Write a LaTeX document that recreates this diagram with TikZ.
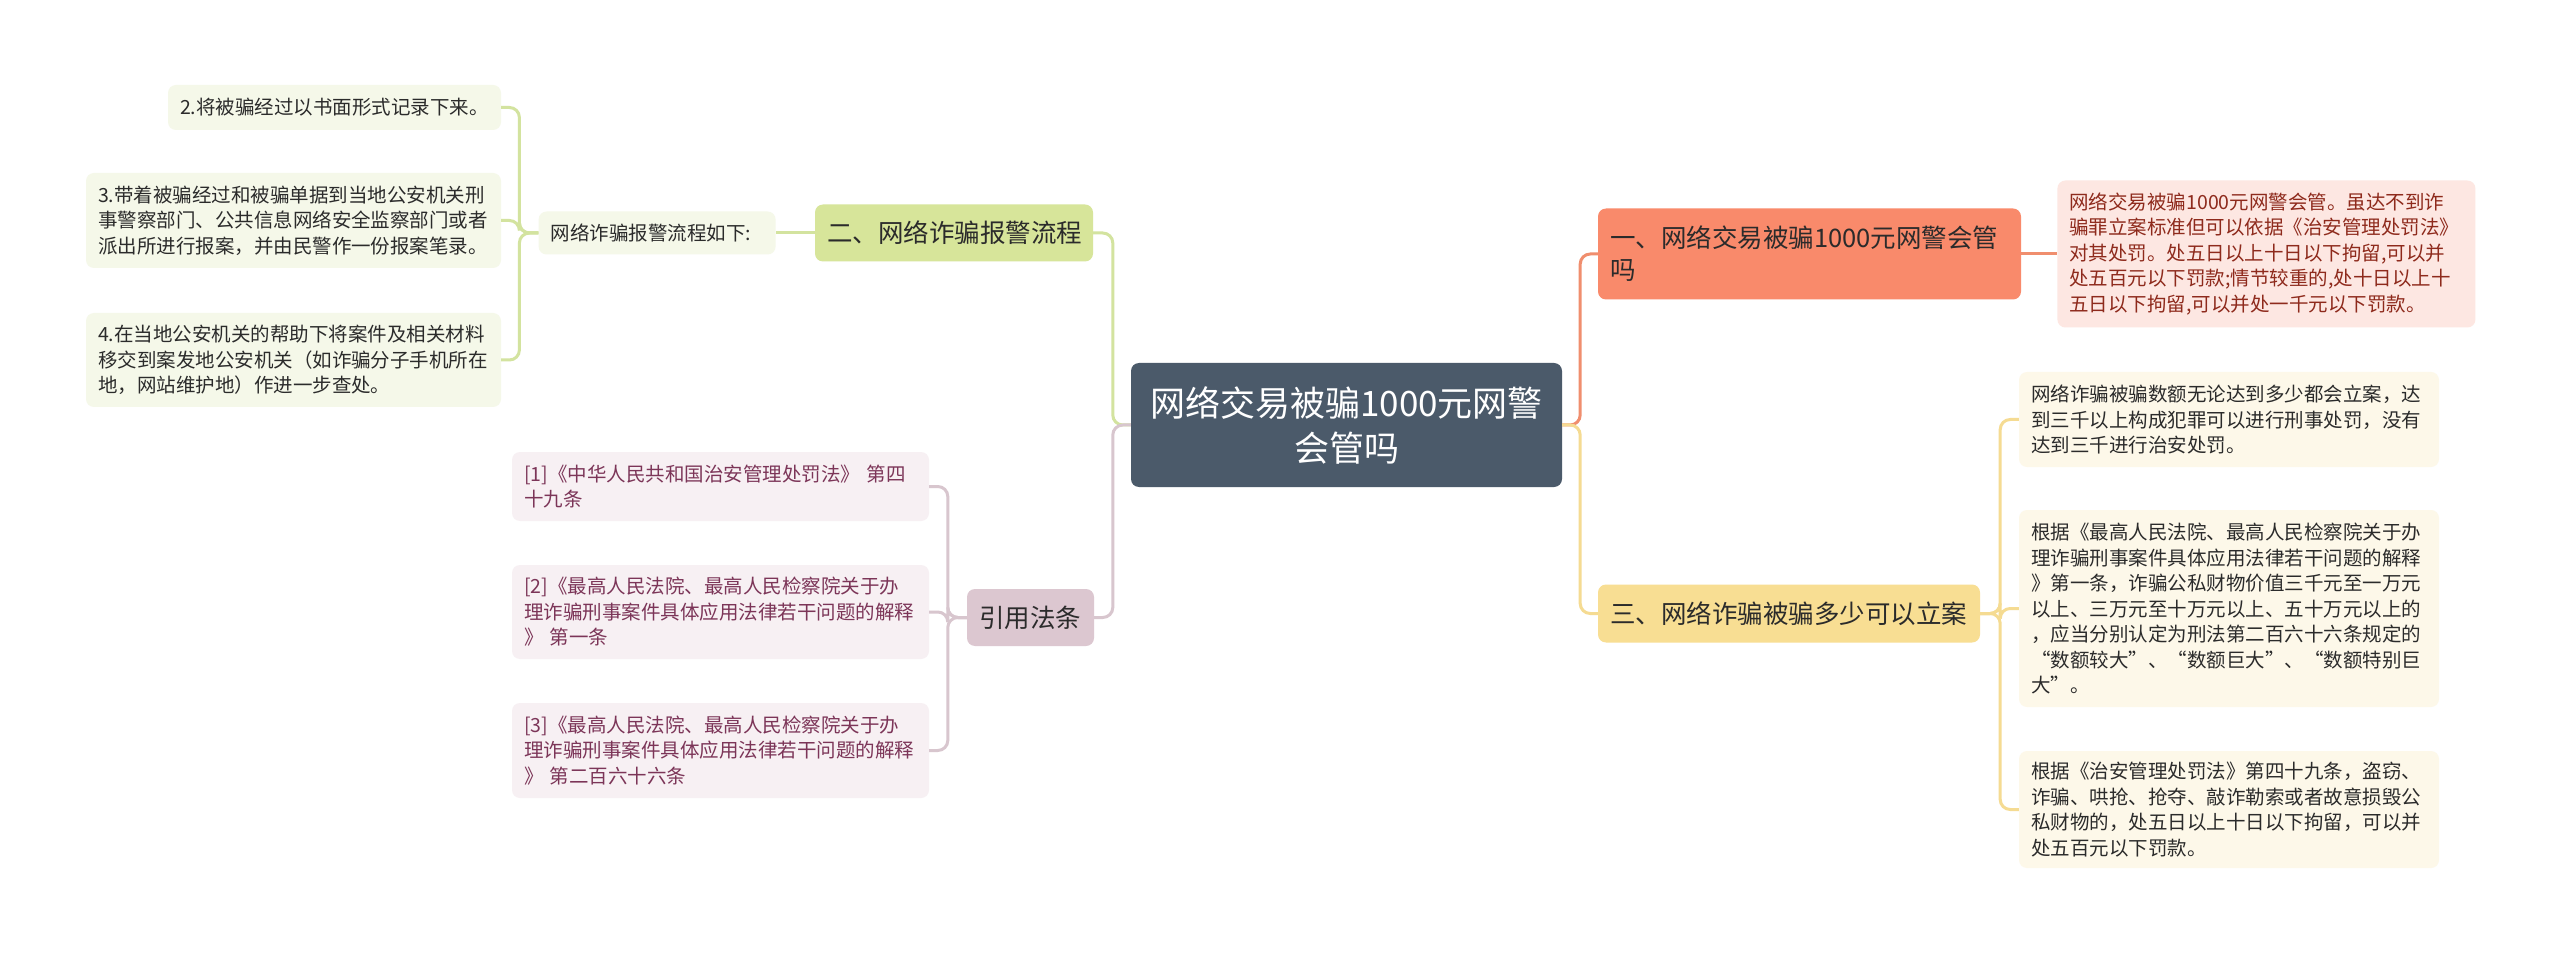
\documentclass[tikz,border=0pt]{standalone}
\usepackage{fontspec}
\setmainfont{Noto Sans CJK SC}
\usetikzlibrary{positioning}

\definecolor{rootfill}{HTML}{4B5A6A}
\definecolor{onefill}{HTML}{F98A6B}
\definecolor{oneleaf}{HTML}{FDE7E2}
\definecolor{onetext}{HTML}{8E2A1C}
\definecolor{oneline}{HTML}{F08E6E}
\definecolor{twofill}{HTML}{D7E59A}
\definecolor{twoleaf}{HTML}{F5F8E9}
\definecolor{twoline}{HTML}{D3E39F}
\definecolor{threefill}{HTML}{F8DE93}
\definecolor{threeleaf}{HTML}{FDF8E9}
\definecolor{threeline}{HTML}{F5DB92}
\definecolor{reffill}{HTML}{DCC7D0}
\definecolor{refleaf}{HTML}{F7F0F3}
\definecolor{reftext}{HTML}{7C3558}
\definecolor{refline}{HTML}{D8C6CE}
\definecolor{darktext}{HTML}{2B2B2B}

\begin{document}
\begin{tikzpicture}[x=1pt, y=-1pt,
  box/.style={rounded corners=8pt, inner xsep=12pt, inner ysep=0pt, align=left},
  small/.style={font=\fontsize{19.5pt}{25.5pt}\selectfont},
  big/.style={font=\fontsize{25.5pt}{32pt}\selectfont},
  link/.style={line width=3pt, rounded corners=10pt}]
\useasboundingbox[fill=white] (0,0) rectangle (2560,957);

% root
\node (0) [box, fill=rootfill, text=white, align=center, text width=407pt,
  minimum height=124pt, font=\fontsize{35pt}{45pt}\selectfont] at (1346.5,425)
  {网络交易被骗1000元网警\\会管吗};

% branches
\node (1) [box, big, fill=onefill, text=darktext, text width=399pt, minimum height=91pt]
  at (1809.5,254) {一、网络交易被骗1000元网警会管\\吗};
\node (2) [box, big, fill=twofill, text=darktext, text width=254pt, minimum height=57pt]
  at (954,233) {二、网络诈骗报警流程};
\node (3) [box, big, fill=threefill, text=darktext, text width=358pt, minimum height=58pt]
  at (1789,613.5) {三、网络诈骗被骗多少可以立案};
\node (4) [box, big, fill=reffill, text=darktext, text width=103pt, minimum height=57pt]
  at (1030.5,617.5) {引用法条};

% branch one
\node (5) [box, small, fill=oneleaf, text=onetext, text width=394pt, minimum height=147pt,
  right=36pt of 1] {网络交易被骗1000元网警会管。虽达不到诈\\骗罪立案标准但可以依据《治安管理处罚法》\\对其处罚。处五日以上十日以下拘留,可以并\\处五百元以下罚款;情节较重的,处十日以上十\\五日以下拘留,可以并处一千元以下罚款。};

% branch two
\node (6) [box, small, fill=twoleaf, text=darktext, text width=213pt, minimum height=43pt,
  left=39pt of 2] {网络诈骗报警流程如下:};
\node (12) [box, small, fill=twoleaf, text=darktext, text width=309pt, minimum height=45pt]
  at (334.5,107.5) {2.将被骗经过以书面形式记录下来。};
\node (13) [box, small, fill=twoleaf, text=darktext, text width=391pt, minimum height=95pt]
  at (293.5,220.5) {3.带着被骗经过和被骗单据到当地公安机关刑\\事警察部门、公共信息网络安全监察部门或者\\派出所进行报案，并由民警作一份报案笔录。};
\node (14) [box, small, fill=twoleaf, text=darktext, text width=391pt, minimum height=94pt]
  at (293.5,360) {4.在当地公安机关的帮助下将案件及相关材料\\移交到案发地公安机关（如诈骗分子手机所在\\地，网站维护地）作进一步查处。};

% branch three
\node (9) [box, small, fill=threeleaf, text=darktext, text width=396pt, minimum height=95pt]
  at (2229,419.5) {网络诈骗被骗数额无论达到多少都会立案，达\\到三千以上构成犯罪可以进行刑事处罚，没有\\达到三千进行治安处罚。};
\node (10) [box, small, fill=threeleaf, text=darktext, text width=396pt, minimum height=197pt]
  at (2229,608.5) {根据《最高人民法院、最高人民检察院关于办\\理诈骗刑事案件具体应用法律若干问题的解释\\》第一条，诈骗公私财物价值三千元至一万元\\以上、三万元至十万元以上、五十万元以上的\\，应当分别认定为刑法第二百六十六条规定的\\“数额较大”、“数额巨大”、“数额特别巨\\大”。};
\node (11) [box, small, fill=threeleaf, text=darktext, text width=396pt, minimum height=117pt]
  at (2229,809.5) {根据《治安管理处罚法》第四十九条，盗窃、\\诈骗、哄抢、抢夺、敲诈勒索或者故意损毁公\\私财物的，处五日以上十日以下拘留，可以并\\处五百元以下罚款。};

% references
\node (7) [box, small, fill=refleaf, text=reftext, text width=393pt, minimum height=69pt]
  at (720.5,486.5) {[1]《中华人民共和国治安管理处罚法》 第四\\十九条};
\node (8) [box, small, fill=refleaf, text=reftext, text width=393pt, minimum height=94pt]
  at (720.5,612) {[2]《最高人民法院、最高人民检察院关于办\\理诈骗刑事案件具体应用法律若干问题的解释\\》 第一条};
\node (15) [box, small, fill=refleaf, text=reftext, text width=393pt, minimum height=95pt]
  at (720.5,750.5) {[3]《最高人民法院、最高人民检察院关于办\\理诈骗刑事案件具体应用法律若干问题的解释\\》 第二百六十六条};

% connectors
\draw[link, oneline] (0.east) -- ++(18,0) |- (1.west);
\draw[link, threeline] (0.east) -- ++(18,0) |- (3.west);
\draw[link, twoline] (0.west) -- ++(-18,0) |- (2.east);
\draw[link, refline] (0.west) -- ++(-18,0) |- (4.east);
\draw[link, oneline] (1.east) -- (5.west);
\draw[link, twoline] (2.west) -- (6.east);
\draw[link, twoline] (6.west) -- ++(-19,0) |- (12.east);
\draw[link, twoline] (6.west) -- ++(-19,0) |- (13.east);
\draw[link, twoline] (6.west) -- ++(-19,0) |- (14.east);
\draw[link, threeline] (3.east) -- ++(20,0) |- (9.west);
\draw[link, threeline] (3.east) -- ++(20,0) |- (10.west);
\draw[link, threeline] (3.east) -- ++(20,0) |- (11.west);
\draw[link, refline] (4.west) -- ++(-19,0) |- (7.east);
\draw[link, refline] (4.west) -- ++(-19,0) |- (8.east);
\draw[link, refline] (4.west) -- ++(-19,0) |- (15.east);
\end{tikzpicture}
\end{document}
